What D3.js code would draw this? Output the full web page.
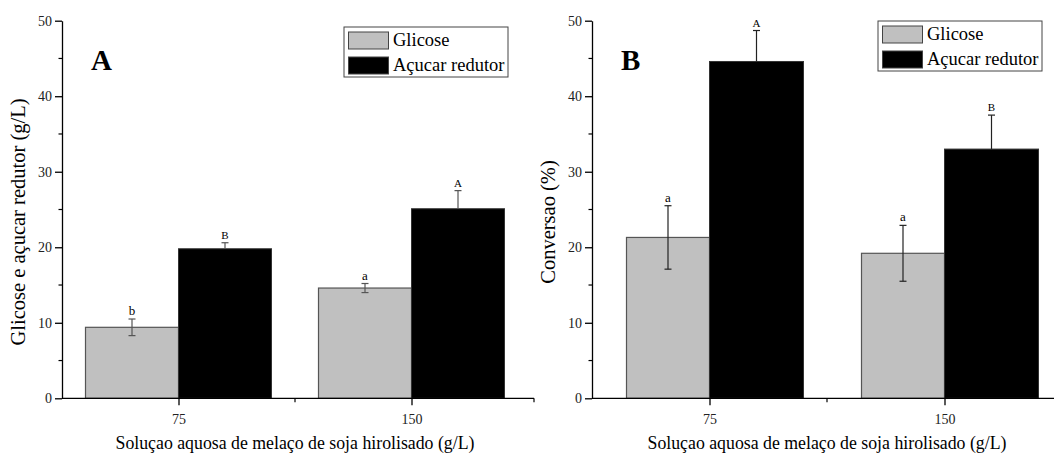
<!DOCTYPE html>
<html>
<head>
<meta charset="utf-8">
<script src="https://cdn.jsdelivr.net/npm/d3@7"></script>
<style>
  body { margin: 0; background: #fff; }
</style>
</head>
<body>
<div id="graph"></div>
<script>
// data
const categories = ["75", "150"];
const seriesNames = ["Glicose", "Açucar redutor"];
const yTicks = [0, 10, 20, 30, 40, 50];

const glicoseA = [9.4, 14.6];
const glicoseErrA = [1.1, 0.6];
const acucarA = [19.8, 25.1];
const acucarErrA = [0.8, 2.4];
const lettersGlicoseA = ["b", "a"];
const lettersAcucarA = ["B", "A"];

const glicoseB = [21.3, 19.2];
const glicoseErrB = [4.2, 3.7];
const acucarB = [44.6, 33.0];
const acucarErrB = [4.1, 4.5];
const lettersGlicoseB = ["a", "a"];
const lettersAcucarB = ["A", "B"];

var w = 1054, h = 459;
var serif = "'Liberation Serif', 'Times New Roman', 'DejaVu Serif', serif";

var svg = d3.select('#graph')
  .append('svg')
  .attr("width", w)
  .attr("height", h)
  .attr("font-family", serif)

var y = d3.scaleLinear().domain([0, 50]).range([398.3, 20.7]);

var panels = [
  {
    tag: "A", left: 62, right: 528, axisEnd: 534, grayW: 93, blackW: 93,
    ytitle: "Glicose e açucar redutor (g/L)", errColor: "#555",
    glic: glicoseA, glicErr: glicoseErrA, acu: acucarA, acuErr: acucarErrA,
    lg: lettersGlicoseA, la: lettersAcucarA,
    legend: {x: 344, y: 27}
  },
  {
    tag: "B", left: 592, right: 1062, axisEnd: 1060, grayW: 83, blackW: 94,
    ytitle: "Conversao (%)", errColor: "#222",
    glic: glicoseB, glicErr: glicoseErrB, acu: acucarB, acuErr: acucarErrB,
    lg: lettersGlicoseB, la: lettersAcucarB,
    legend: {x: 878, y: 21}
  }
];

panels.forEach(p => {
  var g = svg.append("g");

  var x = d3.scalePoint()
    .domain(categories)
    .range([p.left, p.right])
    .padding(0.5);

  var rows = categories.map((c, i) => ({
    cat: c,
    glic: p.glic[i], glicErr: p.glicErr[i],
    acu: p.acu[i], acuErr: p.acuErr[i],
    lg: p.lg[i], la: p.la[i]
  }));

  // gray bars (left of tick)
  g.selectAll(".gbar").data(rows).enter().append("rect")
    .attr("x", d => x(d.cat) - p.grayW)
    .attr("y", d => y(d.glic))
    .attr("width", p.grayW)
    .attr("height", d => y(0) - y(d.glic))
    .style("fill", "#c0c0c0")
    .style("stroke", "#555")
    .style("stroke-width", 1.2);

  // black bars (right of tick)
  g.selectAll(".bbar").data(rows).enter().append("rect")
    .attr("x", d => x(d.cat))
    .attr("y", d => y(d.acu))
    .attr("width", p.blackW)
    .attr("height", d => y(0) - y(d.acu))
    .style("fill", "#000")
    .style("stroke", "#333")
    .style("stroke-width", 1);

  // error bars (lower half on black bars is invisible in the original)
  var errs = [];
  rows.forEach(d => {
    errs.push({cx: x(d.cat) - p.grayW / 2, v: d.glic, e: d.glicErr, lab: d.lg, big: false});
    errs.push({cx: x(d.cat) + p.blackW / 2, v: d.acu, e: d.acuErr, lab: d.la, big: true});
  });

  var eg = g.selectAll(".err").data(errs).enter().append("g");
  eg.append("line")
    .attr("x1", d => d.cx).attr("x2", d => d.cx)
    .attr("y1", d => d.big ? y(d.v) : y(d.v - d.e)).attr("y2", d => y(d.v + d.e))
    .style("stroke", p.errColor).style("stroke-width", 1.2);
  eg.append("line")
    .attr("x1", d => d.cx - 3.5).attr("x2", d => d.cx + 3.5)
    .attr("y1", d => y(d.v + d.e)).attr("y2", d => y(d.v + d.e))
    .style("stroke", p.errColor).style("stroke-width", 1.2);
  eg.filter(d => !d.big).append("line")
    .attr("x1", d => d.cx - 3.5).attr("x2", d => d.cx + 3.5)
    .attr("y1", d => y(d.v - d.e)).attr("y2", d => y(d.v - d.e))
    .style("stroke", p.errColor).style("stroke-width", 1.2);
  eg.append("text")
    .attr("x", d => d.cx)
    .attr("y", d => y(d.v + d.e) - 4)
    .attr("text-anchor", "middle")
    .style("font-size", d => d.big ? "11px" : "13px")
    .text(d => d.lab);

  // y axis
  var yAxis = d3.axisLeft(y).tickValues(yTicks).tickSize(7).tickPadding(3).tickSizeOuter(0);
  var ya = g.append("g").attr("transform", `translate(${p.left},0)`).call(yAxis);
  ya.select(".domain").style("stroke-width", 1.3);
  ya.selectAll(".tick line").style("stroke-width", 1.3);
  ya.selectAll("text").style("font-size", "14px").style("fill", "#222");
  // minor y ticks
  g.selectAll(".ymin").data(yTicks.slice(0, -1).map(t => t + 5)).enter().append("line")
    .attr("x1", p.left - 3.5).attr("x2", p.left)
    .attr("y1", d => y(d)).attr("y2", d => y(d))
    .style("stroke", "#000").style("stroke-width", 1.2);

  // x axis
  var xAxis = d3.axisBottom(x).tickSize(7).tickPadding(9).tickSizeOuter(0);
  var xa = g.append("g").attr("transform", `translate(0,${y(0)})`).call(xAxis);
  xa.select(".domain").remove();
  xa.selectAll(".tick line").style("stroke-width", 1.3);
  xa.selectAll("text").style("font-size", "14px").style("fill", "#222");
  g.append("line")
    .attr("x1", p.left).attr("x2", p.axisEnd)
    .attr("y1", y(0)).attr("y2", y(0))
    .style("stroke", "#000").style("stroke-width", 1.3);
  // minor x tick between categories + end tick
  var mid = (x(categories[0]) + x(categories[1])) / 2;
  [mid, p.axisEnd].forEach(mx => {
    g.append("line")
      .attr("x1", mx).attr("x2", mx)
      .attr("y1", y(0)).attr("y2", y(0) + 4)
      .style("stroke", "#000").style("stroke-width", 1.2);
  });

  // titles
  g.append("text")
    .attr("transform", `translate(${p.left - 37},222) rotate(-90)`)
    .attr("text-anchor", "middle")
    .style("font-size", "20.5px")
    .text(p.ytitle);

  g.append("text")
    .attr("x", mid)
    .attr("y", 449)
    .attr("text-anchor", "middle")
    .style("font-size", "17.8px")
    .text("Soluçao aquosa de melaço de soja hirolisado (g/L)");

  // panel letter
  g.append("text")
    .attr("x", p.left + 29)
    .attr("y", 70)
    .style("font-size", "29px")
    .style("font-weight", "bold")
    .text(p.tag);

  // legend
  var lg = g.append("g").attr("transform", `translate(${p.legend.x},${p.legend.y})`);
  lg.append("rect")
    .attr("width", 164).attr("height", 50)
    .style("fill", "#fff").style("stroke", "#444").style("stroke-width", 1);
  var fills = ["#c0c0c0", "#000"];
  seriesNames.forEach((s, i) => {
    lg.append("rect")
      .attr("x", 4.5).attr("y", 5 + i * 25)
      .attr("width", 40).attr("height", 17)
      .style("fill", fills[i]).style("stroke", "#444").style("stroke-width", 1);
    lg.append("text")
      .attr("x", 49).attr("y", 19 + i * 25)
      .style("font-size", "18.5px")
      .text(s);
  });
});

// make sure every label uses the serif face (axes set their own font)
svg.selectAll("text").style("font-family", serif);
</script>
</body>
</html>
